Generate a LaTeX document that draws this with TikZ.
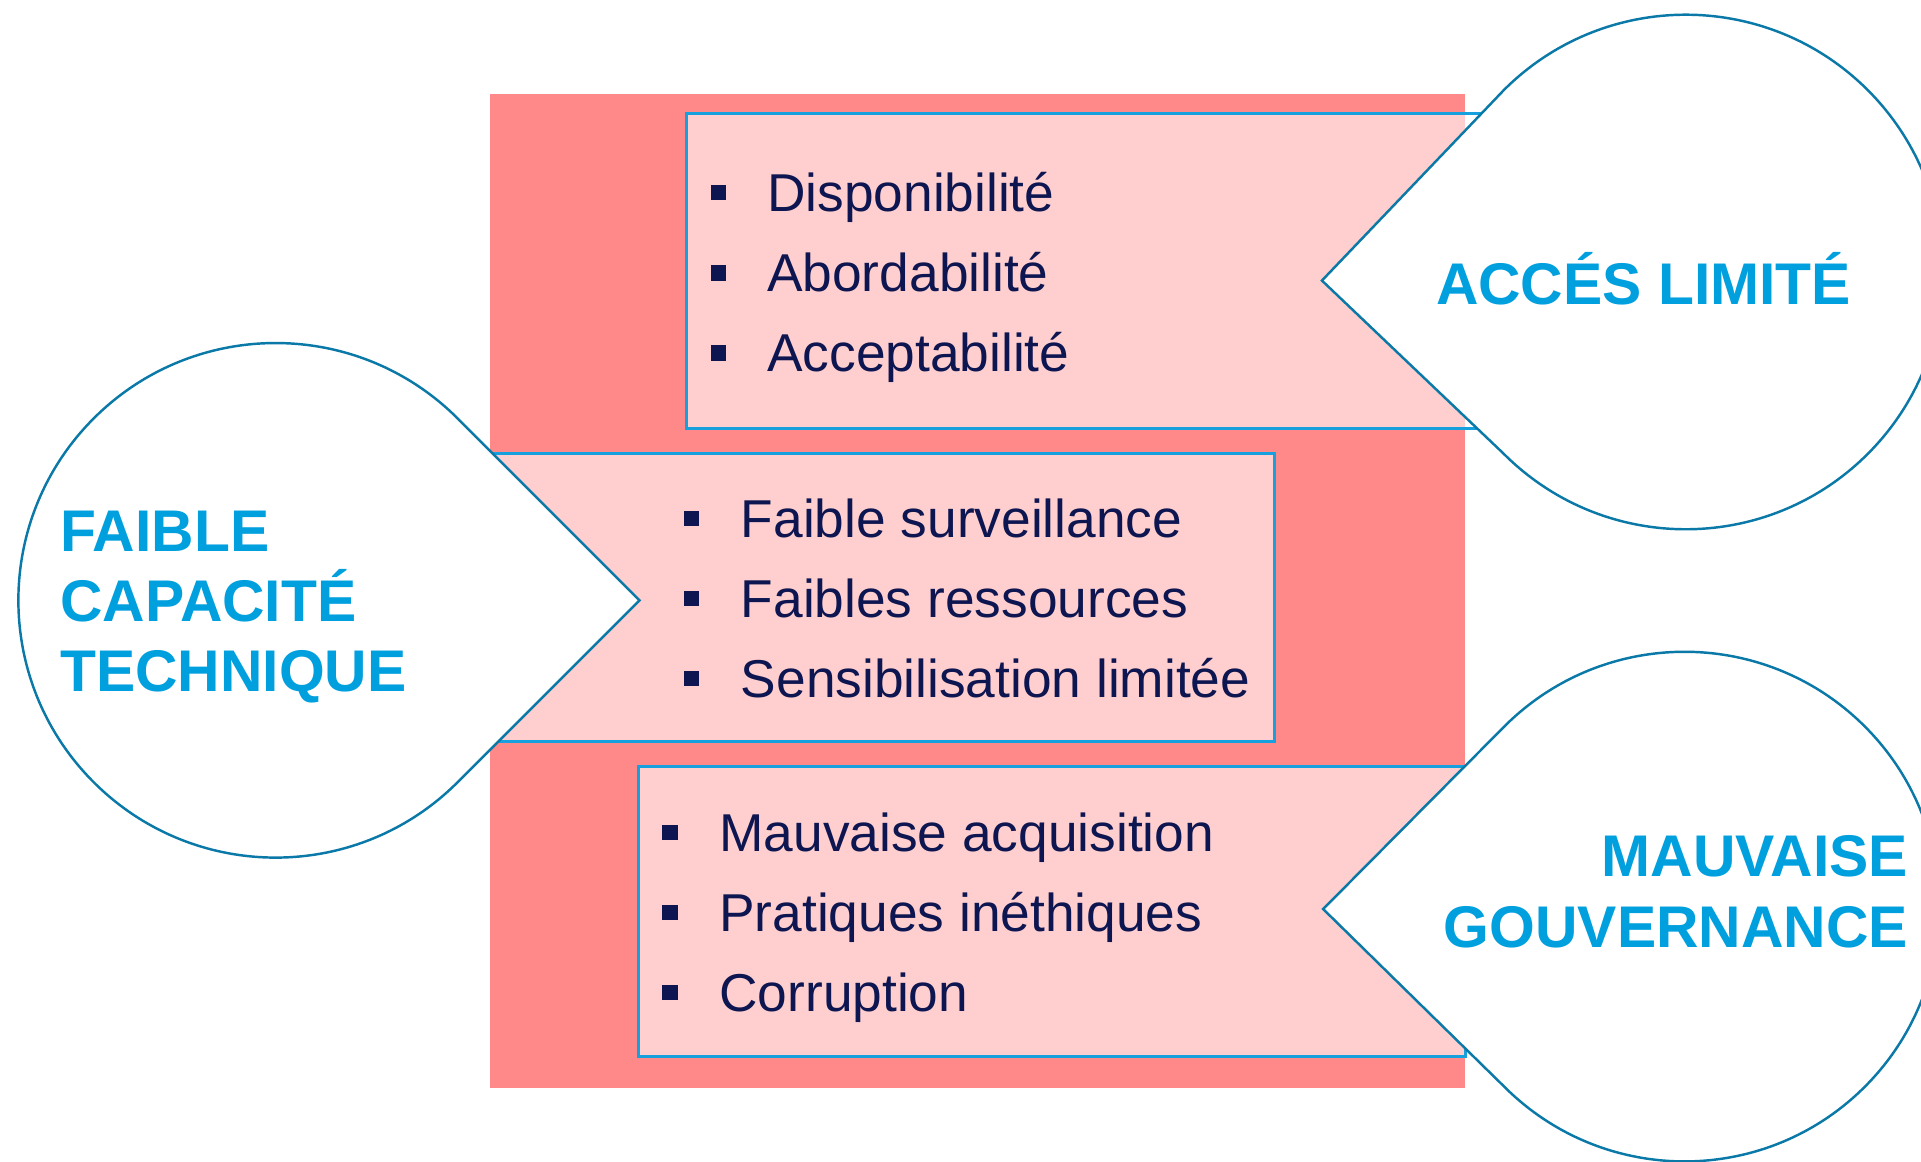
\documentclass[tikz,border=0pt]{standalone}
\usepackage{fontspec}
\setmainfont{Liberation Sans}
\usetikzlibrary{calc}

\begin{document}
\begin{tikzpicture}[
  x=1pt, y=-1pt,
  panel/.style={fill=white, fill opacity=0.6, draw=boxblue, line width=2.4pt},
  drop/.style={fill=white, draw=dropblue, line width=2pt},
  blt/.style={fill=navy},
  item/.style={anchor=base west, inner sep=0pt, text=navy, font=\fontsize{43.5}{52}\selectfont},
  heading/.style={inner sep=0pt, text=titleblue, font=\fontsize{48}{57.3}\selectfont\bfseries},
]
\definecolor{salmon}{RGB}{255,137,137}
\definecolor{boxblue}{RGB}{22,160,222}
\definecolor{dropblue}{RGB}{10,121,168}
\definecolor{titleblue}{RGB}{0,159,222}
\definecolor{navy}{RGB}{13,22,80}

\useasboundingbox (0,0) rectangle (1568,948);

% background block
\fill [salmon] (400,77) rectangle (1196,888);

% panels
\path [panel, draw=none] (560,93) rectangle (1216,350);
\draw [boxblue, line width=2.4pt] (1216,93) -- (560,93) -- (560,350) -- (1216,350);
\path [panel] (400,370) rectangle (1040,605);
\path [panel] (521,626) rectangle (1196,862);

% drops
\draw [drop] (1079,229) -- ($(1376,222)+(135:210)$)
  arc [start angle=135, end angle=-135, radius=210] -- cycle;
\draw [drop] ($(225,490)+(297,0)$) -- ($(225,490)+(45:210)$)
  arc [start angle=45, end angle=315, radius=210] -- cycle;
\draw [drop] (1080,742) -- ($(1375,740)+(135:208)$)
  arc [start angle=135, end angle=-135, radius=208] -- cycle;

% headings
\node [heading, anchor=base] (acces) at (1341.5,248.5) {ACCÉS LIMITÉ};
\node [heading, anchor=north west, align=left] (capacite) at (49,417) {FAIBLE\\CAPACITÉ\\TECHNIQUE};
\node [heading, anchor=north east, align=right] (gouv) at (1557.5,682) {MAUVAISE\\GOUVERNANCE};

% access list
\path [blt] (580,151) rectangle ++(12.5,12.5);
\path [blt] (580,216.5) rectangle ++(12.5,12.5);
\path [blt] (580,282) rectangle ++(12.5,12.5);
\node [item] (dispo) at (626,172.8) {Disponibilité};
\node [item] (abord) at (626,238.1) {Abordabilité};
\node [item] (accept) at (626,303.4) {Acceptabilité};

% capacity list
\path [blt] (558,417) rectangle ++(12.5,12.5);
\path [blt] (558,482.3) rectangle ++(12.5,12.5);
\path [blt] (558,547.6) rectangle ++(12.5,12.5);
\node [item] (surv) at (604.5,438.6) {Faible surveillance};
\node [item] (ress) at (604.5,503.9) {Faibles ressources};
\node [item] (sensi) at (604.5,569.2) {Sensibilisation limitée};

% governance list
\path [blt] (540.5,673.5) rectangle ++(12.5,12.5);
\path [blt] (540.5,738.8) rectangle ++(12.5,12.5);
\path [blt] (540.5,804.1) rectangle ++(12.5,12.5);
\node [item] (acqui) at (587,695.2) {Mauvaise acquisition};
\node [item] (ethi) at (587,760.5) {Pratiques inéthiques};
\node [item] (corr) at (587,825.8) {Corruption};

\end{tikzpicture}
\end{document}
